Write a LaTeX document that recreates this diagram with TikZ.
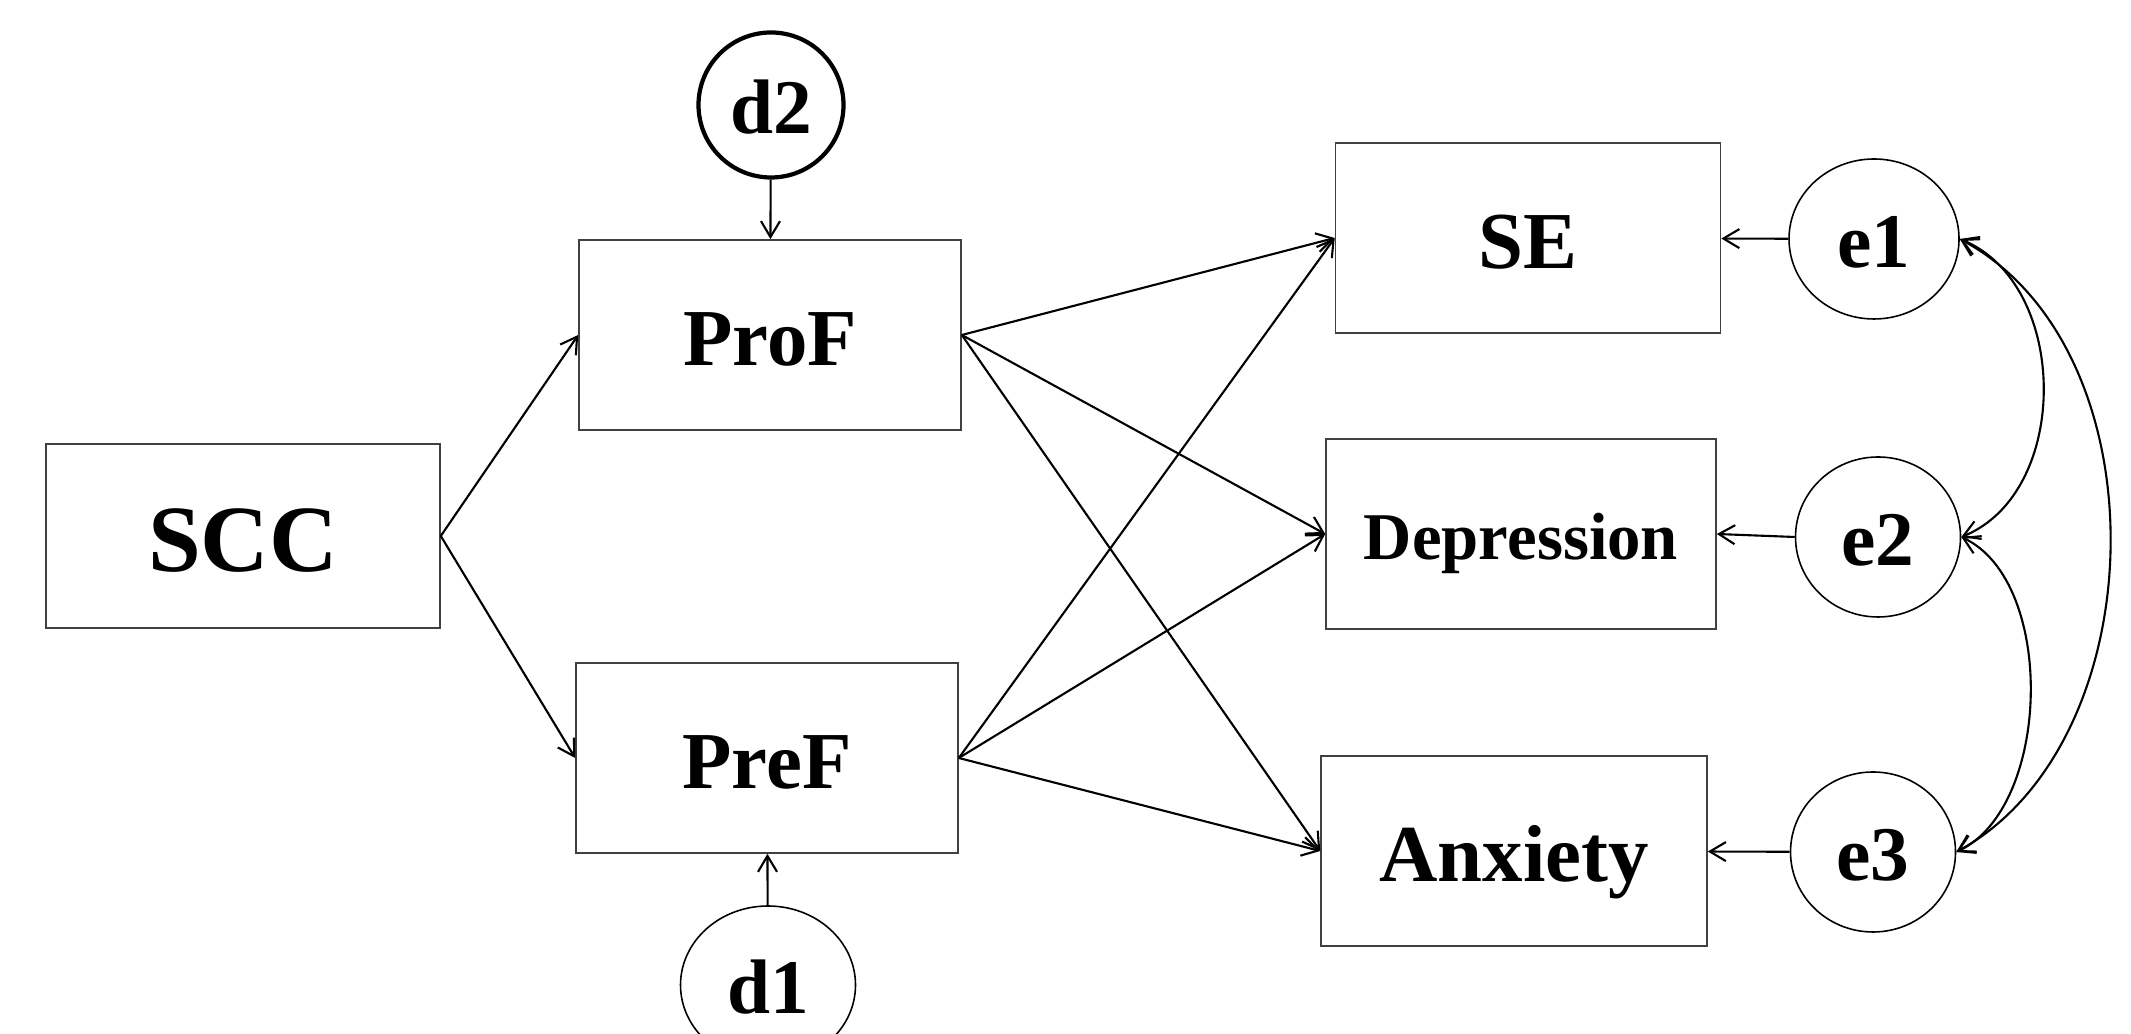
\documentclass[tikz,border=0pt]{standalone}
\usepackage{fontspec}
\setmainfont{Liberation Serif}
\usepackage{tikz}
\usetikzlibrary{positioning,arrows.meta,shapes.geometric}

\newcommand{\fsz}[1]{\fontsize{#1}{#1}\selectfont\bfseries}

\begin{document}
\begin{tikzpicture}[
  >={Straight Barb[length=1.6mm,width=1.9mm]},
  fs/.style={font=\fsz{#1},text height=0.8*#1pt,text depth=0.05*#1pt},
  obs/.style={draw=black!75,line width=0.45pt,inner sep=0pt,minimum width=3.82cm,minimum height=1.9cm},
  err/.style={draw,ellipse,line width=0.45pt,inner sep=0pt,minimum width=1.65cm,minimum height=1.6cm,fs=22},
  path/.style={->,line width=0.6pt}
]
\clip (0,0) rectangle (21.31,10.34);
\fill[white] (0,0) rectangle (21.31,10.34);

% observed variables
\node[obs,minimum width=3.94cm,minimum height=1.84cm,fs=27] (scc) at (2.43,4.98) {SCC};
\node[obs,fs=23] (prof) at (7.70,6.99) {ProF};
\node[obs,fs=23] (pref) at (7.67,2.76) {PreF};
\node[obs,minimum width=3.85cm,fs=23] (se) at (15.28,7.96) {SE};
\node[obs,minimum width=3.90cm,fs=19] (dep) at (15.21,5.00) {Depression};
\node[obs,minimum width=3.86cm,fs=23] (anx) at (15.14,1.83) {Anxiety};

% disturbances and errors
\node[draw,circle,line width=1.2pt,minimum size=1.45cm,inner sep=0pt,fs=22] (d2) at (7.71,9.29) {d2};
\node[err,minimum width=1.75cm,minimum height=1.58cm] (d1) at (7.68,0.49) {d1};
\node[err,minimum width=1.70cm] (e1) at (18.74,7.95) {e1};
\node[err] (e2) at (18.78,4.97) {e2};
\node[err] (e3) at (18.73,1.82) {e3};

% paths
\draw[path] (scc.east) -- (prof.west);
\draw[path] (scc.east) -- (pref.west);
\foreach \src in {prof,pref}
  \foreach \dst in {se,dep,anx}
    \draw[path] (\src.east) -- (\dst.west);
\draw[path] (d2) -- (prof);
\draw[path] (d1) -- (pref);
\draw[path] (e1) -- (se);
\draw[path] (e2.west) -- (dep.east);
\draw[path] (e3) -- (anx);

% covariances
\draw[<->,line width=0.6pt] (e1.east) .. controls +(1.1,-0.45) and +(1.1,0.45) .. (e2.east);
\draw[<->,line width=0.6pt] (e2.east) .. controls +(0.95,-0.45) and +(0.95,0.45) .. (e3.east);
\draw[<->,line width=0.6pt] (e1.east) .. controls +(2.05,-1.1) and +(2.0,1.1) .. (e3.east);
\end{tikzpicture}
\end{document}
